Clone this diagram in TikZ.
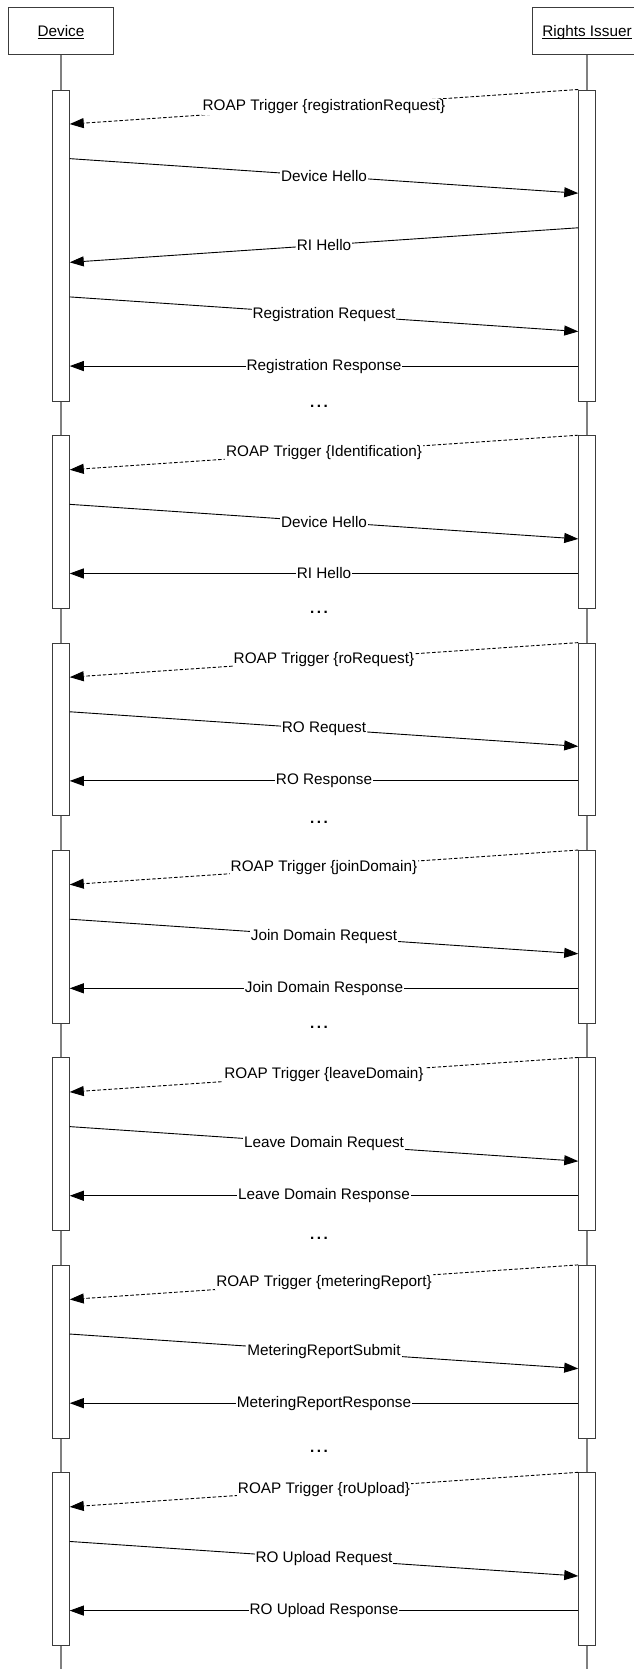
\documentclass[tikz,border=0pt]{standalone}
\usepackage{fontspec}
\setmainfont{Liberation Sans}
\usetikzlibrary{arrows.meta}
\definecolor{lifegray}{RGB}{128,128,128}
\definecolor{boxgray}{RGB}{60,60,60}
\newcommand\msgfont{\fontsize{15.3bp}{18bp}\selectfont}
\newcommand\ulname[1]{\underline{\smash{#1}}}
% right-to-left message: name, y start, y end, label, style
\newcommand\msgrl[5]{%
  \coordinate (#1s) at (578.25,#2);
  \coordinate (#1e) at (69.75,#3);
  \draw[#5] (#1s) -- node[lbl] (#1l) {#4} (#1e);}
% left-to-right message
\newcommand\msglr[5]{%
  \coordinate (#1s) at (69.75,#2);
  \coordinate (#1e) at (578.25,#3);
  \draw[#5] (#1s) -- node[lbl] (#1l) {#4} (#1e);}
\newcommand\gapdottext{.\kern2.6bp.\kern2.6bp.}
\begin{document}
\begin{tikzpicture}[x=1bp,y=-1bp,
  head/.style={draw=boxgray, fill=white, line width=0.9bp, minimum height=47bp,
    inner sep=0pt, font=\msgfont, text height=11bp, text depth=0bp},
  lifeline/.style={draw=lifegray, line width=1.6bp},
  actbar/.style={draw=boxgray, fill=white, line width=0.9bp, minimum width=17.5bp,
    inner sep=0pt, anchor=north},
  msg/.style={draw=black, line width=0.9bp, -{Triangle[length=14bp,width=10bp]}},
  trig/.style={msg, dash pattern=on 3.5bp off 2bp},
  lbl/.style={fill=white, inner sep=1bp, font=\msgfont},
  gapdots/.style={inner sep=0pt, font=\msgfont\bfseries}]

\useasboundingbox (0,0) rectangle (634,1669);

% headers and lifelines
\node[head, minimum width=104.5bp] (dev) at (61,31) {\ulname{Device}};
\node[head, minimum width=110bp] (ri) at (587,31) {\ulname{Rights Issuer}};
\coordinate (devend) at (61,1669);
\coordinate (riend) at (587,1669);
\draw[lifeline] (dev.south) -- (devend);
\draw[lifeline] (ri.south) -- (riend);

% activation bars
\node[actbar, minimum height=311.13bp] (d1) at (61,89.5) {};
\node[actbar, minimum height=311.13bp] (r1) at (587,89.5) {};
\node[actbar, minimum height=172.85bp] (d2) at (61,435.2) {};
\node[actbar, minimum height=172.85bp] (r2) at (587,435.2) {};
\node[actbar, minimum height=172.85bp] (d3) at (61,642.62) {};
\node[actbar, minimum height=172.85bp] (r3) at (587,642.62) {};
\node[actbar, minimum height=172.85bp] (d4) at (61,850.04) {};
\node[actbar, minimum height=172.85bp] (r4) at (587,850.04) {};
\node[actbar, minimum height=172.85bp] (d5) at (61,1057.46) {};
\node[actbar, minimum height=172.85bp] (r5) at (587,1057.46) {};
\node[actbar, minimum height=172.85bp] (d6) at (61,1264.88) {};
\node[actbar, minimum height=172.85bp] (r6) at (587,1264.88) {};
\node[actbar, minimum height=172.85bp] (d7) at (61,1472.30) {};
\node[actbar, minimum height=172.85bp] (r7) at (587,1472.30) {};

% block 1: registration
\msgrl{a1}{89.5}{124.07}{ROAP Trigger \{registrationRequest\}}{trig}
\msglr{a2}{158.64}{193.21}{Device Hello}{msg}
\msgrl{a3}{227.78}{262.35}{RI Hello}{msg}
\msglr{a4}{296.92}{331.49}{Registration Request}{msg}
\msgrl{a5}{366.06}{366.06}{Registration Response}{msg}
\node[gapdots] (g1) at (319,406.6) {\gapdottext};

% block 2: identification
\msgrl{b1}{435.2}{469.77}{ROAP Trigger \{Identification\}}{trig}
\msglr{b2}{504.34}{538.91}{Device Hello}{msg}
\msgrl{b3}{573.48}{573.48}{RI Hello}{msg}
\node[gapdots] (g2) at (319,612) {\gapdottext};

% block 3: RO acquisition
\msgrl{c1}{642.62}{677.19}{ROAP Trigger \{roRequest\}}{trig}
\msglr{c2}{711.76}{746.33}{RO Request}{msg}
\msgrl{c3}{780.90}{780.90}{RO Response}{msg}
\node[gapdots] (g3) at (319,822) {\gapdottext};

% block 4: join domain
\msgrl{e1}{850.04}{884.61}{ROAP Trigger \{joinDomain\}}{trig}
\msglr{e2}{919.18}{953.75}{Join Domain Request}{msg}
\msgrl{e3}{988.32}{988.32}{Join Domain Response}{msg}
\node[gapdots] (g4) at (319,1026.9) {\gapdottext};

% block 5: leave domain
\msgrl{f1}{1057.46}{1092.03}{ROAP Trigger \{leaveDomain\}}{trig}
\msglr{f2}{1126.60}{1161.17}{Leave Domain Request}{msg}
\msgrl{f3}{1195.74}{1195.74}{Leave Domain Response}{msg}
\node[gapdots] (g5) at (319,1238.3) {\gapdottext};

% block 6: metering
\msgrl{h1}{1264.88}{1299.45}{ROAP Trigger \{meteringReport\}}{trig}
\msglr{h2}{1334.02}{1368.59}{MeteringReportSubmit}{msg}
\msgrl{h3}{1403.16}{1403.16}{MeteringReportResponse}{msg}
\node[gapdots] (g6) at (319,1451.7) {\gapdottext};

% block 7: RO upload
\msgrl{k1}{1472.30}{1506.87}{ROAP Trigger \{roUpload\}}{trig}
\msglr{k2}{1541.44}{1576.01}{RO Upload Request}{msg}
\msgrl{k3}{1610.58}{1610.58}{RO Upload Response}{msg}
\end{tikzpicture}
\end{document}
